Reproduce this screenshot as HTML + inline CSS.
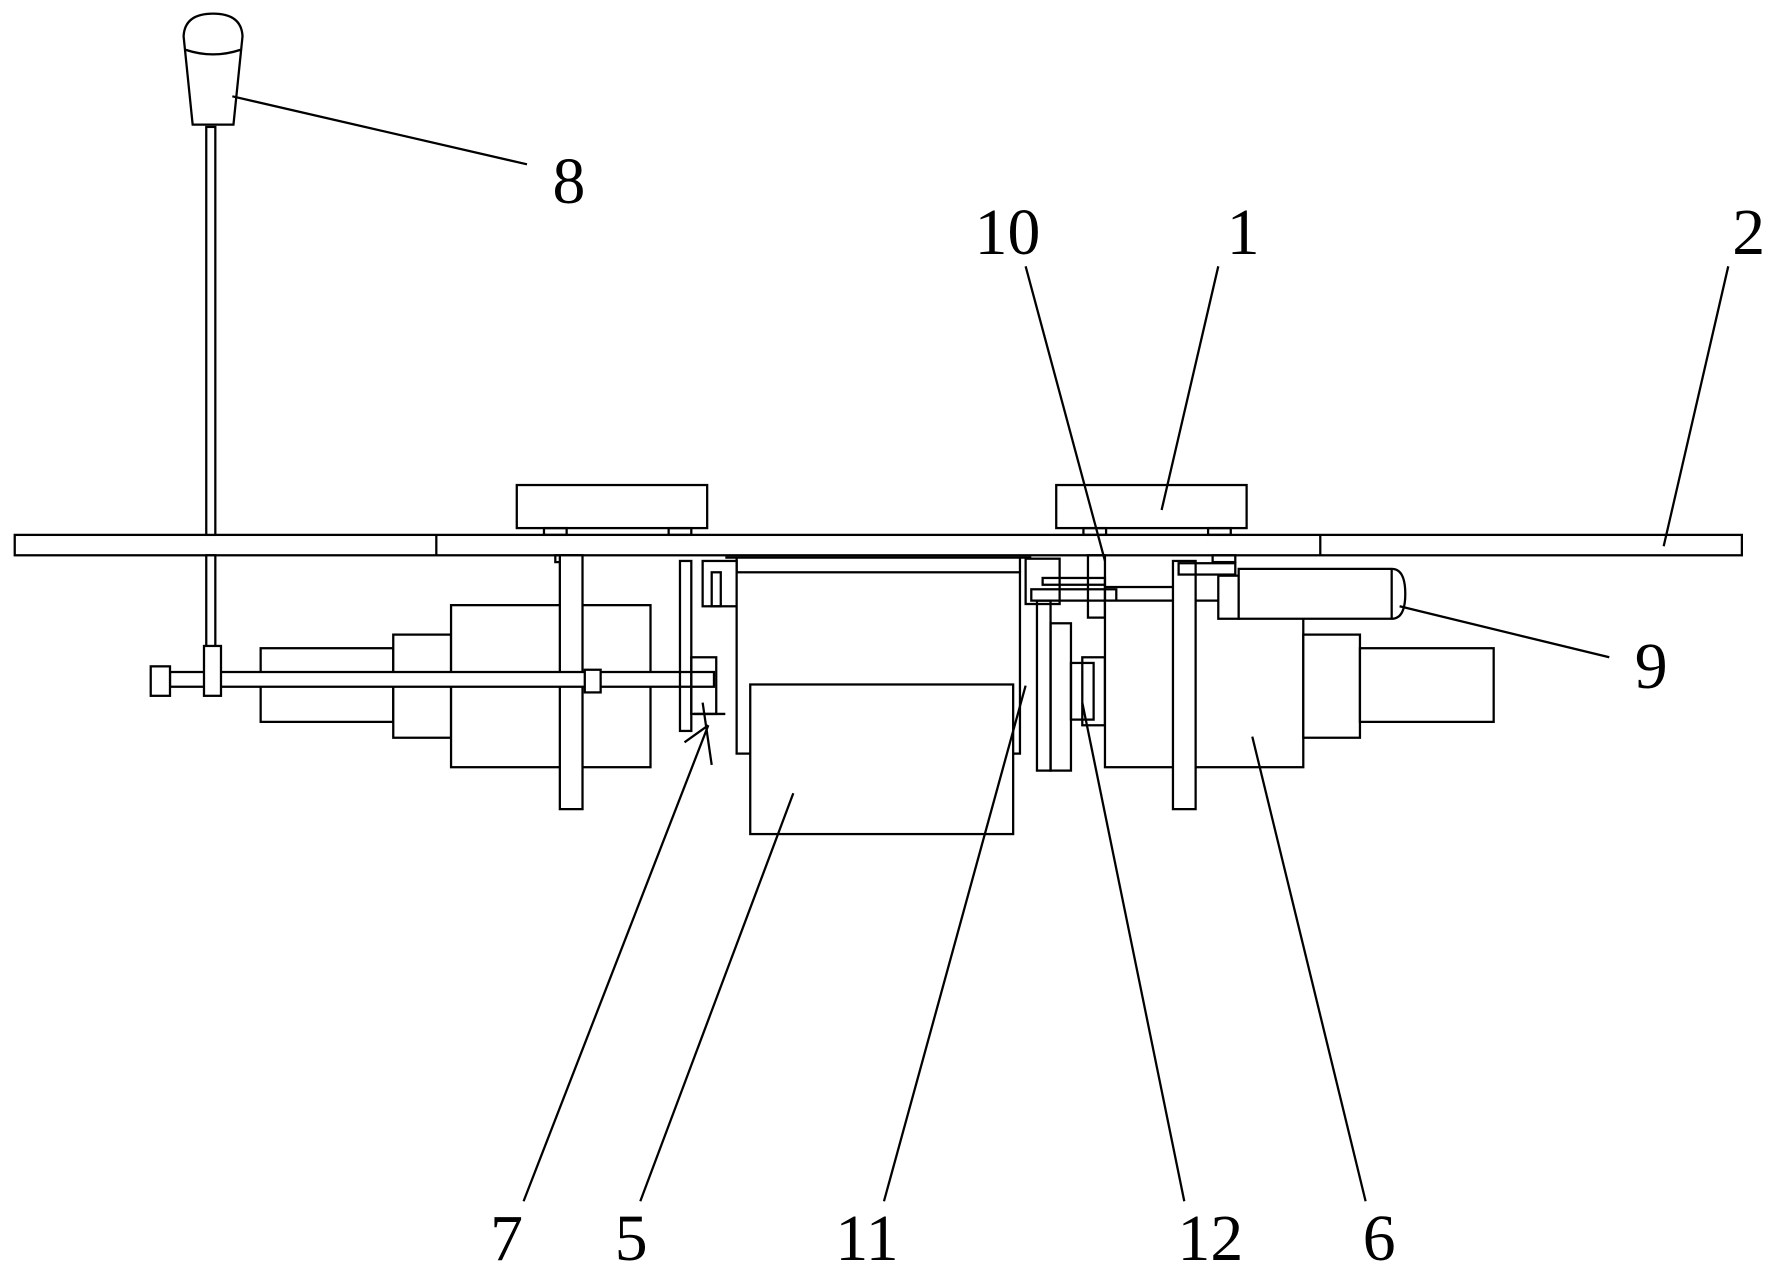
<!DOCTYPE html>
<html><head><meta charset="utf-8"><style>
html,body{margin:0;padding:0;background:#fff;}
svg{display:block;}
text{font-family:"Liberation Serif",serif;font-size:58px;fill:#000;text-anchor:middle;}
</style></head><body>
<svg width="1777" height="1280" viewBox="0 0 1568 1129.5" preserveAspectRatio="none" xmlns="http://www.w3.org/2000/svg">
<g fill="none" stroke="#000" stroke-width="2">
<rect x="13" y="472" width="1524" height="18" fill="#fff"/>
<line x1="385" y1="472" x2="385" y2="490"/>
<line x1="1165" y1="472" x2="1165" y2="490"/>
<rect x="456" y="428" width="168" height="38" fill="#fff"/>
<rect x="932" y="428" width="168" height="38" fill="#fff"/>
<rect x="480" y="466" width="20" height="6"/><rect x="590" y="466" width="20" height="6"/>
<rect x="956" y="466" width="20" height="6"/><rect x="1066" y="466" width="20" height="6"/>
<rect x="490" y="490" width="20" height="6"/><rect x="1070" y="490" width="20" height="6"/>
<path d="M162,32 Q163,12 188,12 Q213,12 214,32 L206,110 L170,110 Z" fill="#fff"/>
<path d="M164,44 Q188,52 212,44" />
<rect x="182" y="112" width="8" height="360" fill="#fff"/>
<rect x="182" y="490" width="8" height="82" fill="#fff"/>
<rect x="230" y="572" width="117" height="65" fill="#fff"/>
<rect x="347" y="560" width="51" height="91" fill="#fff"/>
<rect x="398" y="534" width="176" height="143" fill="#fff"/>
<rect x="494" y="490" width="20" height="224" fill="#fff"/>
<rect x="150" y="593" width="480" height="13" fill="#fff"/>
<rect x="133" y="588" width="17" height="26" fill="#fff"/>
<rect x="180" y="570" width="15" height="44" fill="#fff"/>
<rect x="516" y="591" width="14" height="20" fill="#fff"/>
<rect x="600" y="495" width="10" height="150"/>
<rect x="610" y="580" width="22" height="50"/>
<rect x="620" y="495" width="30" height="40"/>
<rect x="628" y="505" width="8" height="30"/>
<line x1="620" y1="620" x2="628" y2="675"/>
<line x1="604" y1="655" x2="625" y2="640"/>
<line x1="612" y1="630" x2="640" y2="630"/>
<rect x="650" y="505" width="250" height="160" fill="#fff"/>
<line x1="650" y1="492" x2="650" y2="505"/><line x1="900" y1="492" x2="900" y2="505"/>
<line x1="640" y1="492" x2="910" y2="492"/>
<rect x="662" y="604" width="232" height="132" fill="#fff"/>
<rect x="905" y="493" width="30" height="40"/>
<rect x="910" y="520" width="75" height="10"/>
<rect x="920" y="510" width="55" height="6"/>
<rect x="960" y="490" width="15" height="55"/>
<rect x="915" y="530" width="12" height="150"/>
<rect x="927" y="550" width="18" height="130"/>
<rect x="945" y="585" width="20" height="50"/>
<rect x="955" y="580" width="20" height="60"/>
<rect x="975" y="518" width="65" height="12"/>
<rect x="975" y="530" width="175" height="147" fill="#fff"/>
<rect x="1035" y="495" width="20" height="219" fill="#fff"/>
<rect x="1150" y="560" width="50" height="91" fill="#fff"/>
<rect x="1200" y="572" width="118" height="65" fill="#fff"/>
<rect x="1075" y="508" width="18" height="38" fill="#fff"/>
<path d="M1093,502 L1228,502 Q1240,502 1240,524 Q1240,546 1228,546 L1093,546 Z" fill="#fff"/>
<line x1="1228" y1="502" x2="1228" y2="546"/>
<rect x="1040" y="497" width="50" height="10"/>
<line x1="205" y1="85" x2="465" y2="145"/>
<line x1="905" y1="235" x2="975" y2="495"/>
<line x1="1075" y1="235" x2="1025" y2="450"/>
<line x1="1525" y1="235" x2="1468" y2="482"/>
<line x1="1235" y1="535" x2="1420" y2="580"/>
<line x1="625" y1="640" x2="462" y2="1060"/>
<line x1="700" y1="700" x2="565" y2="1060"/>
<line x1="905" y1="605" x2="780" y2="1060"/>
<line x1="955" y1="620" x2="1045" y2="1060"/>
<line x1="1105" y1="650" x2="1205" y2="1060"/>
</g>
<text x="502" y="179">8</text>
<text x="889" y="224">10</text>
<text x="1097" y="224">1</text>
<text x="1543" y="224">2</text>
<text x="1457" y="607">9</text>
<text x="447" y="1112">7</text>
<text x="557" y="1112">5</text>
<text x="765" y="1112">11</text>
<text x="1068" y="1112">12</text>
<text x="1217" y="1112">6</text>
</svg>
</body></html>
